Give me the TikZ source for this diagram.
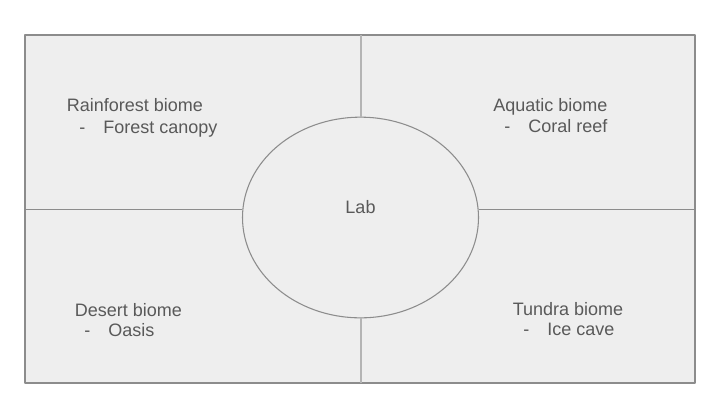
\documentclass[tikz,border=0pt]{standalone}
\usepackage{fontspec}
\setmainfont{Liberation Sans}
\usetikzlibrary{shapes.geometric}
\definecolor{panel}{HTML}{EEEEEE}
\definecolor{edge}{HTML}{8C8C8C}
\definecolor{split}{HTML}{B4B4B4}
\definecolor{ink}{HTML}{595959}
\tikzset{
  every picture/.style={line join=round},
  txt/.style={inner sep=0pt, anchor=base west, text=ink, font=\fontsize{13.5}{16}\selectfont},
  item/.style={txt},
  frame/.style={draw=edge, line width=1.1pt, fill=panel},
  room/.style={ellipse, draw=edge, line width=0.8pt, fill=panel, inner sep=0pt, minimum width=177pt, minimum height=150.5pt},
  wall/.style={draw=edge, line width=0.8pt},
  midwall/.style={draw=split, line width=1.5pt},
}
\newcommand{\dashitem}[1]{-\hspace{13.5pt}#1}

\begin{document}
\begin{tikzpicture}[x=0.75pt,y=-0.75pt]
\useasboundingbox[fill=white] (0,0) rectangle (720,405);
\coordinate (nw) at (25,35);
\coordinate (se) at (695,383);
\draw[frame] (nw) rectangle (se);
\node[room] (lab) at (360.5,217.5) {};
% dividers
\draw[midwall] (lab.north) -- (lab.north |- nw);
\draw[midwall] (lab.south) -- (lab.south |- se);
\draw[wall] (lab.176) -- (lab.176 -| nw);
\draw[wall] (lab.4) -- (lab.4 -| se);
\node[txt,anchor=base] (labtxt) at (360.5,213) {Lab};
% biomes
\node[txt] (rain) at (66.6,111) {Rainforest biome};
\node[item] (rainitem) at (79.2,133) {\dashitem{Forest canopy}};
\node[txt] (aqua) at (493,111) {Aquatic biome};
\node[item] (aquaitem) at (504.2,132.5) {\dashitem{Coral reef}};
\node[txt] (desert) at (74.6,316) {Desert biome};
\node[item] (desertitem) at (84.2,336) {\dashitem{Oasis}};
\node[txt] (tundra) at (512.6,315) {Tundra biome};
\node[item] (tundraitem) at (523.2,335) {\dashitem{Ice cave}};
\end{tikzpicture}
\end{document}
